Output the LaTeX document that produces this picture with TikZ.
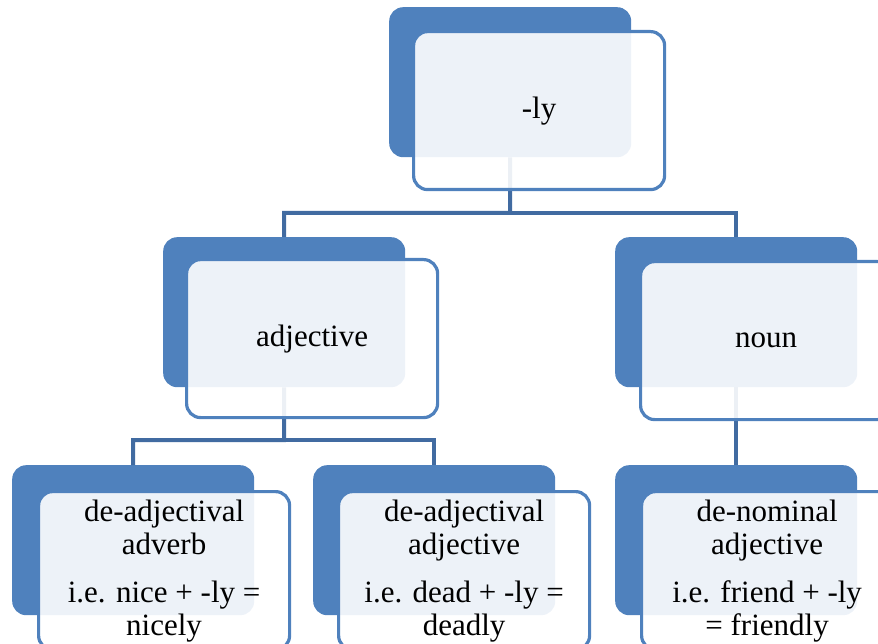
\documentclass[tikz,border=0pt]{standalone}
\usepackage{fontspec}
\setmainfont{Liberation Serif}
\usepackage{tikz}
\usetikzlibrary{calc,positioning}
\definecolor{CardBlue}{RGB}{79,129,189}
\definecolor{LinkBlue}{RGB}{65,107,161}

\begin{document}
\begin{tikzpicture}[
    x=1pt, y=1pt,
    back/.style={rectangle, rounded corners=14pt, fill=CardBlue, draw=none,
      minimum width=242pt, minimum height=150pt, anchor=north west},
    front/.style={rectangle, rounded corners=14pt, draw=CardBlue, line width=3.2pt,
      fill=white, fill opacity=0.9, text opacity=1, align=center,
      minimum width=251pt, minimum height=158pt, anchor=north west},
    link/.style={draw=LinkBlue, line width=4pt},
    every node/.style={font={\fontsize{31}{33}\selectfont}}
  ]
  \clip (0,0) rectangle (878,-644);
  \useasboundingbox (0,0) rectangle (878,-644);

  % back cards
  \node[back] (lyB) at (389,-7) {};
  \node[back] (adjB) at (163,-237) {};
  \node[back] (nounB) at (615,-237) {};
  \node[back] (advB) at (12,-465) {};
  \node[back] (adjadjB) at (313,-465) {};
  \node[back] (nomB) at (615,-465) {};

  % tree links, drawn under the front cards
  \coordinate (hub1) at (510,-213);
  \coordinate (hub2) at (284,-440);
  \draw[link] (lyB.south) -- (hub1) -| (adjB.north);
  \draw[link] (hub1) -| (nounB.north);
  \draw[link] (adjB.south) -- (hub2) -| (advB.north);
  \draw[link] (hub2) -| (adjadjB.north);
  \draw[link] (nounB.south) -- (nomB.north);

  % front cards
  \node[front] (ly) at ($(lyB.north west)+(23,-23)$) {-ly};
  \node[front] (adj) at ($(adjB.north west)+(22,-21)$) {adjective};
  \node[front] (noun) at ($(nounB.north west)+(24,-23)$) {noun};
  \node[front] (adv) at ($(advB.north west)+(25,-25)$)
    {de-adjectival\\adverb\\[15pt]i.e. nice + -ly =\\nicely};
  \node[front] (adjadj) at ($(adjadjB.north west)+(24,-25)$)
    {de-adjectival\\adjective\\[15pt]i.e. dead + -ly =\\deadly};
  \node[front] (nom) at ($(nomB.north west)+(25,-25)$)
    {de-nominal\\adjective\\[15pt]i.e. friend + -ly\\= friendly};
\end{tikzpicture}
\end{document}
